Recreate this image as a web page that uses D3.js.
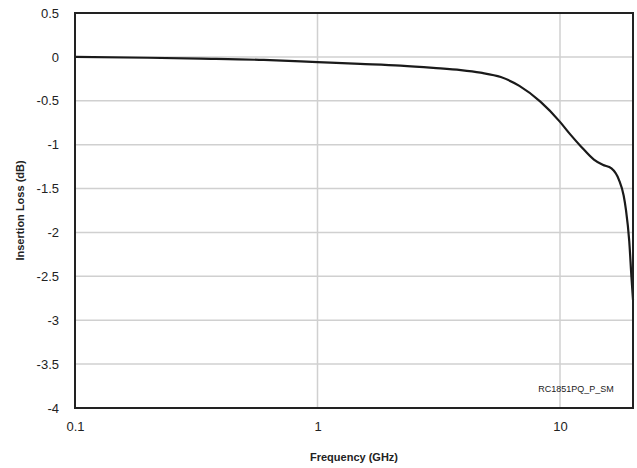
<!DOCTYPE html>
<html>
<head>
<meta charset="utf-8">
<style>
  body { margin: 0; background: #fff; }
  svg text { font-family: "Liberation Sans", Arial, sans-serif; fill: #222; }
</style>
</head>
<body>
<svg id="chart"></svg>
<script src="https://d3js.org/d3.v7.min.js"></script>
<script>
var width = 637, height = 468
var margin = {top: 13, right: 4, bottom: 60, left: 75}

// insertion loss (GHz, dB)
var freqs = [0.1, 0.2, 0.33, 0.6, 1.0, 1.5, 2.2, 3.0, 3.9, 4.7, 5.7, 6.8, 8.3, 10, 11, 12.2, 13.8, 15, 16.3, 17.5, 18.3, 18.7, 19.3, 19.7, 20]
var loss = [0, -0.01, -0.02, -0.035, -0.06, -0.08, -0.1, -0.125, -0.15, -0.18, -0.23, -0.33, -0.51, -0.74, -0.88, -1.02, -1.17, -1.23, -1.27, -1.40, -1.58, -1.74, -2.1, -2.5, -2.77]
var yTicks = [0.5, 0, -0.5, -1, -1.5, -2, -2.5, -3, -3.5, -4]
var xTicks = [0.1, 1, 10]

var svg = d3.select("#chart").attr("width", width).attr("height", height)
var w = width - margin.left - margin.right
var h = height - margin.top - margin.bottom

var x = d3.scaleLog().domain([0.1, 20]).range([margin.left, margin.left + w])
var y = d3.scaleLinear().domain([-4, 0.5]).range([margin.top + h, margin.top])

// grid
svg.append("g").selectAll("line").data(yTicks).enter().append("line")
    .attr("x1", margin.left).attr("x2", margin.left + w)
    .attr("y1", function(d) { return y(d) }).attr("y2", function(d) { return y(d) })
    .attr("stroke", "#d0d0d0").attr("stroke-width", 1.5)
svg.append("g").selectAll("line").data(xTicks).enter().append("line")
    .attr("y1", margin.top).attr("y2", margin.top + h)
    .attr("x1", function(d) { return x(d) }).attr("x2", function(d) { return x(d) })
    .attr("stroke", "#d0d0d0").attr("stroke-width", 1.5)

// axes (labels only), plain hyphen for negatives
var yAxis = svg.append("g").attr("transform", "translate(" + margin.left + ",0)")
    .call(d3.axisLeft(y).tickValues(yTicks).tickSize(0).tickPadding(16).tickFormat(function(d) { return String(d) }))
var xAxis = svg.append("g").attr("transform", "translate(0," + (margin.top + h) + ")")
    .call(d3.axisBottom(x).tickValues(xTicks).tickSize(0).tickPadding(14).tickFormat(function(d) { return String(d) }))
svg.selectAll(".domain").remove()
svg.selectAll(".tick text").style("font-size", "13px").style("fill", "#222")

// curve
var line = d3.line()
    .x(function(d, i) { return x(freqs[i]) })
    .y(function(d) { return y(d) })
    .curve(d3.curveMonotoneX)
svg.append("path").datum(loss)
    .attr("d", line)
    .attr("fill", "none").attr("stroke", "#1a1a1a").attr("stroke-width", 2.2)

// frame
svg.append("rect")
    .attr("x", margin.left).attr("y", margin.top).attr("width", w).attr("height", h)
    .attr("fill", "none").attr("stroke", "#222").attr("stroke-width", 2)

svg.append("text").attr("x", 576).attr("y", 392).attr("text-anchor", "middle")
    .style("font-size", "9px").text("RC1851PQ_P_SM")

svg.append("text").attr("x", margin.left + w / 2).attr("y", 461).attr("text-anchor", "middle")
    .style("font-size", "11px").style("font-weight", "bold").text("Frequency (GHz)")
svg.append("text").attr("transform", "translate(24," + (margin.top + h / 2) + ")rotate(-90)")
    .attr("text-anchor", "middle")
    .style("font-size", "11px").style("font-weight", "bold").text("Insertion Loss (dB)")
</script>
</body>
</html>
